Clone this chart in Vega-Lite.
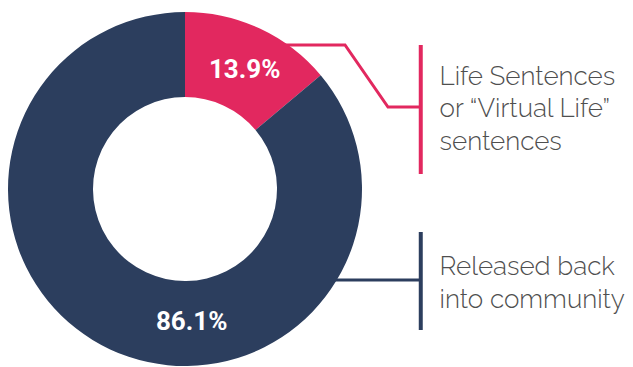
{
  "$schema": "https://vega.github.io/schema/vega-lite/v6.json",
  "width": 633,
  "height": 367,
  "padding": 0,
  "autosize": {"type": "fit", "contains": "padding"},
  "background": "white",
  "config": {"view": {"stroke": null}},
  "datasets": {
    "slices": [
      {"category": "life", "share": 0.139, "labelAt": 0.074},
      {"category": "released", "share": 0.861, "labelAt": 0.492}
    ],
    "leaders": [
      {"category": "life", "step": 1, "x": 50.85, "y": 81.36},
      {"category": "life", "step": 2, "x": 90.4, "y": 81.36},
      {"category": "life", "step": 3, "x": 114.69, "y": 46.33},
      {"category": "life", "step": 4, "x": 133.2, "y": 46.33},
      {"category": "released", "step": 1, "x": 70.62, "y": -51.41},
      {"category": "released", "step": 2, "x": 133.2, "y": -51.41}
    ],
    "bars": [
      {"category": "life", "x": 133.2, "y": 81.36, "y2": 8.47},
      {"category": "released", "x": 133.2, "y": -24.29, "y2": -79.66}
    ],
    "notes": [
      {"category": "life", "label": "Life Sentences\nor “Virtual Life”\nsentences", "x": 143.8, "y": 58.76},
      {"category": "released", "label": "Released back\ninto community", "x": 143.8, "y": -48.59}
    ]
  },
  "layer": [
    {
      "data": {"name": "leaders"},
      "mark": {"type": "line", "strokeWidth": 3, "strokeJoin": "miter", "strokeCap": "butt", "interpolate": "linear"},
      "encoding": {
        "x": {"field": "x", "type": "quantitative", "scale": {"domain": [-104.52, 253.11], "nice": false, "zero": false}, "axis": null},
        "y": {"field": "y", "type": "quantitative", "scale": {"domain": [-100.56, 106.78], "nice": false, "zero": false}, "axis": null},
        "order": {"field": "step"},
        "detail": {"field": "category"},
        "color": {"field": "category", "type": "nominal", "scale": {"domain": ["life", "released"], "range": ["#E2285F", "#2C3E5E"]}, "legend": null}
      }
    },
    {
      "data": {"name": "bars"},
      "mark": {"type": "rule", "strokeWidth": 4, "strokeCap": "butt"},
      "encoding": {
        "x": {"field": "x", "type": "quantitative", "scale": {"domain": [-104.52, 253.11], "nice": false, "zero": false}, "axis": null},
        "y": {"field": "y", "type": "quantitative", "scale": {"domain": [-100.56, 106.78], "nice": false, "zero": false}, "axis": null},
        "y2": {"field": "y2"},
        "color": {"field": "category", "type": "nominal", "scale": {"domain": ["life", "released"], "range": ["#E2285F", "#2C3E5E"]}, "legend": null}
      }
    },
    {
      "data": {"name": "slices"},
      "mark": {"type": "arc", "outerRadius": 177, "innerRadius": 92},
      "encoding": {
        "x": {"datum": 0, "type": "quantitative", "scale": {"domain": [-104.52, 253.11], "nice": false, "zero": false}, "axis": null},
        "y": {"datum": 0, "type": "quantitative", "scale": {"domain": [-100.56, 106.78], "nice": false, "zero": false}, "axis": null},
        "theta": {"field": "share", "type": "quantitative", "stack": true, "scale": {"domain": [0, 1]}},
        "order": {"field": "share", "sort": "ascending"},
        "color": {"field": "category", "type": "nominal", "scale": {"domain": ["life", "released"], "range": ["#E2285F", "#2C3E5E"]}, "legend": null}
      }
    },
    {
      "data": {"name": "slices"},
      "mark": {"type": "text", "radius": 133, "font": "Roboto, sans-serif", "fontWeight": "bold", "fontSize": 26, "color": "white", "align": "center", "baseline": "middle"},
      "encoding": {
        "x": {"datum": 0, "type": "quantitative", "scale": {"domain": [-104.52, 253.11], "nice": false, "zero": false}, "axis": null},
        "y": {"datum": 0, "type": "quantitative", "scale": {"domain": [-100.56, 106.78], "nice": false, "zero": false}, "axis": null},
        "theta": {"field": "labelAt", "type": "quantitative", "stack": null, "scale": {"domain": [0, 1]}},
        "text": {"field": "share", "type": "quantitative", "format": ".1%"}
      }
    },
    {
      "data": {"name": "notes"},
      "mark": {"type": "text", "font": "Raleway, Lato, sans-serif", "fontWeight": 300, "fontSize": 26, "color": "#4F4F4F", "align": "left", "baseline": "alphabetic", "lineBreak": "\n", "lineHeight": 32.5},
      "encoding": {
        "x": {"field": "x", "type": "quantitative", "scale": {"domain": [-104.52, 253.11], "nice": false, "zero": false}, "axis": null},
        "y": {"field": "y", "type": "quantitative", "scale": {"domain": [-100.56, 106.78], "nice": false, "zero": false}, "axis": null},
        "text": {"field": "label", "type": "nominal"}
      }
    }
  ]
}
